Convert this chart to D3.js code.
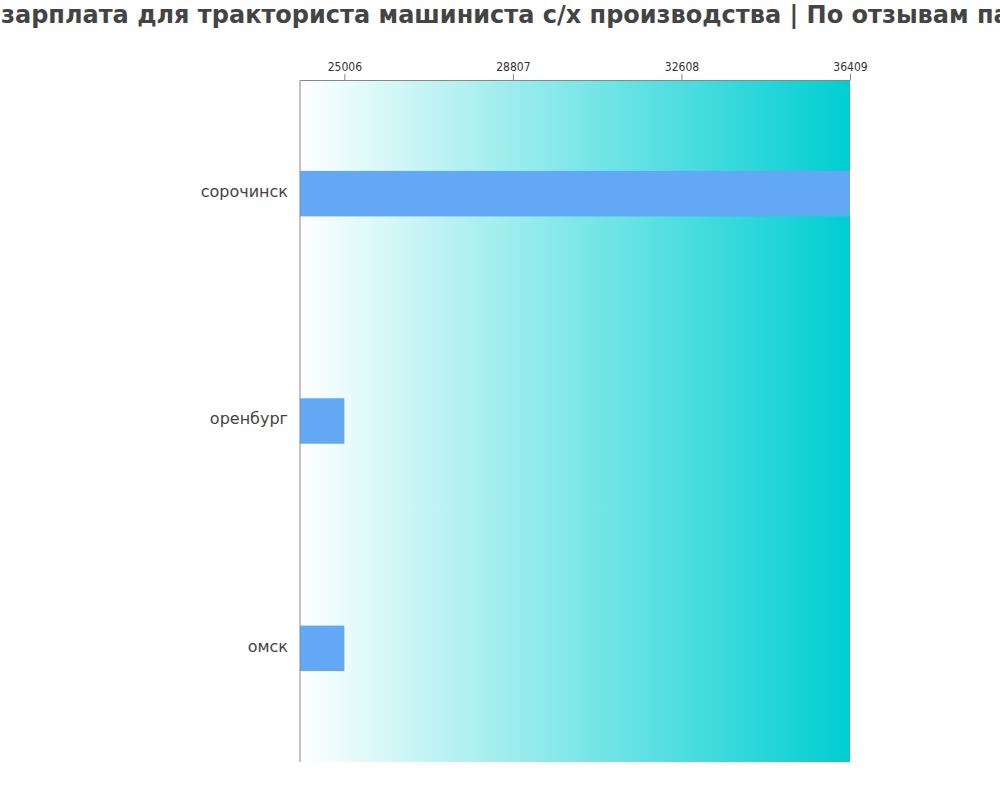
<!DOCTYPE html>
<html>
<head>
<meta charset="utf-8">
<script src="https://cdn.jsdelivr.net/npm/d3@7"></script>
<style>
  body { margin: 0; background: #fff; }
  svg { display: block; }
</style>
</head>
<body>
<div id="chart"></div>
<script>
// data
var cities = ["сорочинск", "оренбург", "омск"];
var salaries = [36409, 25006, 25006];
var tickValues = [25006, 28807, 32608, 36409];
var xMin = 24006;
var titlePrefix = "Средняя ";
var titleText = "Средняя зарплата для тракториста машиниста с/х производства | По отзывам партнёров";

var width = 1000, height = 800;
var margin = {top: 80, right: 150, bottom: 38, left: 300};

var svg = d3.select("#chart").append("svg")
  .attr("width", width)
  .attr("height", height);

var x = d3.scaleLinear()
  .domain([xMin, d3.max(salaries)])
  .range([margin.left, width - margin.right]);

var y = d3.scaleBand()
  .domain(cities)
  .range([margin.top, height - margin.bottom])
  .paddingInner(0.8)
  .paddingOuter(0.4);

// background gradient
var grad = svg.append("defs").append("linearGradient")
  .attr("id", "bg")
  .attr("x1", "0%").attr("x2", "100%")
  .attr("y1", "0%").attr("y2", "0%");
grad.append("stop").attr("offset", "0%").attr("stop-color", "#ffffff");
grad.append("stop").attr("offset", "100%").attr("stop-color", "#00ced1");

svg.append("rect")
  .attr("x", x.range()[0])
  .attr("y", margin.top)
  .attr("width", x.range()[1] - x.range()[0])
  .attr("height", height - margin.bottom - margin.top)
  .style("fill", "url(#bg)");

// bars
svg.selectAll("rect.bar")
  .data(cities)
  .enter()
  .append("rect")
  .attr("class", "bar")
  .attr("x", x(xMin))
  .attr("y", function(d){ return y(d); })
  .attr("width", function(d, i){ return x(salaries[i]) - x(xMin); })
  .attr("height", y.bandwidth())
  .style("fill", "#62a8f4");

// top axis
var xAxis = svg.append("g")
  .attr("transform", "translate(0," + margin.top + ")")
  .call(d3.axisTop(x).tickValues(tickValues).tickSize(6).tickSizeOuter(0).tickFormat(d3.format("d")));
xAxis.select(".domain").attr("stroke", "#888");
xAxis.selectAll(".tick line").attr("stroke", "#888");
xAxis.selectAll(".tick text")
  .attr("fill", "#333")
  .style("font-family", "'DejaVu Sans Condensed', 'DejaVu Sans', sans-serif")
  .style("font-size", "12px");

// left axis line
svg.append("line")
  .attr("x1", margin.left).attr("x2", margin.left)
  .attr("y1", margin.top).attr("y2", height - margin.bottom)
  .attr("stroke", "#888");

// category labels
svg.selectAll("text.city")
  .data(cities)
  .enter()
  .append("text")
  .attr("class", "city")
  .attr("x", margin.left - 12)
  .attr("y", function(d){ return y(d) + y.bandwidth() / 2; })
  .attr("dy", "0.2em")
  .attr("text-anchor", "end")
  .style("font-family", "'DejaVu Sans', sans-serif")
  .style("font-size", "16px")
  .style("fill", "#444")
  .text(function(d){ return d; });

// title, clipped on both sides like the original
var title = svg.append("text")
  .attr("y", 23)
  .style("font-family", "'DejaVu Sans', sans-serif")
  .style("font-weight", "bold")
  .style("font-size", "24px")
  .style("fill", "#444")
  .text(titleText);
var prefixWidth = title.node().getSubStringLength(0, titlePrefix.length);
title.attr("x", 1 - prefixWidth);
</script>
</body>
</html>
